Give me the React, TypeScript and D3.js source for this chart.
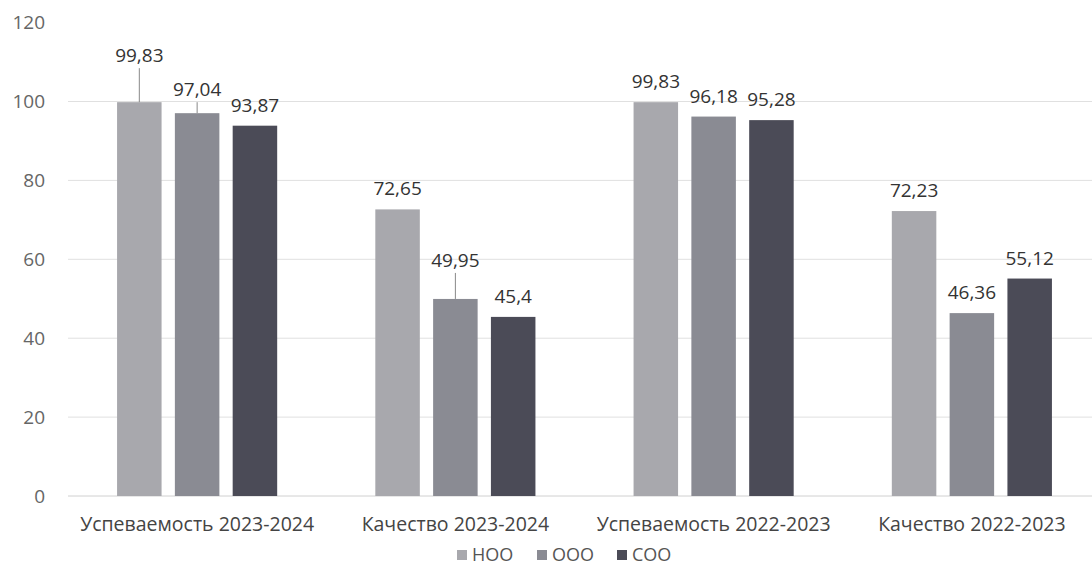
import React from "react";
import * as d3 from "d3";

const categories = ["Успеваемость 2023-2024", "Качество 2023-2024", "Успеваемость 2022-2023", "Качество 2022-2023"];
const seriesNames = ["НОО", "ООО", "СОО"];
const nooValues = [99.83, 72.65, 99.83, 72.23];
const oooValues = [97.04, 49.95, 96.18, 46.36];
const sooValues = [93.87, 45.4, 95.28, 55.12];
const yTicks = [0, 20, 40, 60, 80, 100, 120];
// extra lift (px) of data labels that Excel moved up, with leader line
const labelLift = [
  [26, 3, 0],
  [0, 18, 0],
  [0, 0, 0],
  [0, 0, 0],
];

const colors = ["#a8a8ad", "#8a8b93", "#4b4b57"];
const W = 1092;
const H = 578;
const FONT = "'Open Sans', sans-serif";

export default function App() {
  const series = [nooValues, oooValues, sooValues];
  const x0 = d3.scaleBand<string>().domain(categories).range([68, 1101]).paddingInner(0.38).paddingOuter(0.19);
  const x1 = d3.scaleBand<string>().domain(seriesNames).range([0, x0.bandwidth()]).paddingInner(0.23).paddingOuter(0);
  const y = d3.scaleLinear().domain([0, 120]).range([496, 22.6]);
  const fmt = (v: number) => String(v).replace(".", ",");

  return (
    <svg width={W} height={H} style={{ position: "absolute", left: 0, top: 0, background: "#fff" }} fontFamily={FONT}>
      {yTicks.map((t) => (
        <g key={t}>
          {t !== 120 && (
            <line x1={68} x2={W} y1={y(t)} y2={y(t)} stroke={t === 0 ? "#d0d0d0" : "#e0e0e0"} strokeWidth={1} />
          )}
          <text x={45} y={y(t)} dy="0.35em" textAnchor="end" fontSize={19} fill="#666">
            {t}
          </text>
        </g>
      ))}
      {categories.map((c, ci) => (
        <g key={c} transform={`translate(${x0(c)},0)`}>
          {seriesNames.map((s, si) => {
            const v = series[si][ci];
            const bx = x1(s)!;
            const bw = x1.bandwidth();
            const top = y(v);
            const lift = labelLift[ci][si];
            const baseY = top - 14 - lift;
            return (
              <g key={s}>
                <rect x={bx} y={top} width={bw} height={y(0) - top} fill={colors[si]} />
                {lift > 0 && (
                  <line x1={bx + bw / 2} x2={bx + bw / 2} y1={baseY + 6} y2={top} stroke="#888" strokeWidth={1} />
                )}
                <text x={bx + bw / 2} y={baseY} textAnchor="middle" fontSize={19} fill="#333">
                  {fmt(v)}
                </text>
              </g>
            );
          })}
          <text x={x0.bandwidth() / 2} y={531} textAnchor="middle" fontSize={19.5} fill="#444">
            {c}
          </text>
        </g>
      ))}
      <g transform="translate(457,555)">
        {seriesNames.map((s, i) => (
          <g key={s} transform={`translate(${i * 80},0)`}>
            <rect x={0} y={-5} width={10} height={10} fill={colors[i]} />
            <text x={15} y={0} dy="0.35em" fontSize={18} fill="#555">
              {s}
            </text>
          </g>
        ))}
      </g>
    </svg>
  );
}
